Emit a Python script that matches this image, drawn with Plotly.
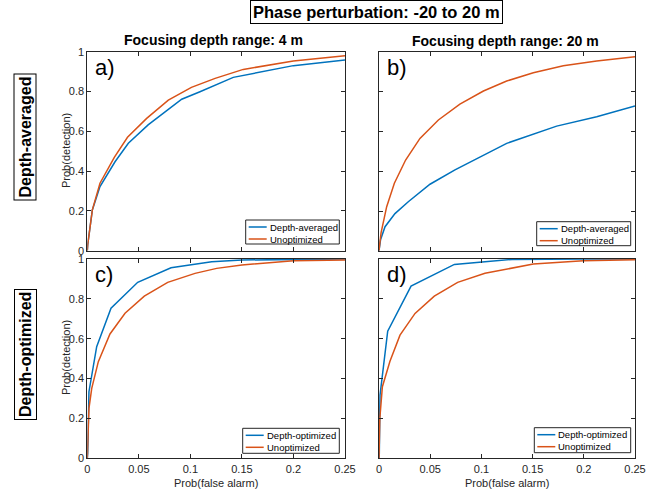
import plotly.graph_objects as go

# ---------------- data ----------------
pfa_a_avg = [0, 0.0004, 0.0049, 0.0123, 0.0269, 0.0398, 0.059, 0.0916, 0.1093, 0.124, 0.1416, 0.1999, 0.25]
pd_a_avg = [0, 0.03, 0.205, 0.322, 0.447, 0.540, 0.632, 0.761, 0.799, 0.833, 0.871, 0.930, 0.958]
pfa_a_un = [0, 0.0004, 0.0049, 0.0123, 0.0262, 0.039, 0.0576, 0.0786, 0.101, 0.124, 0.1513, 0.1999, 0.25]
pd_a_un = [0, 0.03, 0.205, 0.339, 0.469, 0.570, 0.665, 0.757, 0.821, 0.866, 0.911, 0.953, 0.980]

pfa_b_avg = [0, 0.0015, 0.0059, 0.0156, 0.0286, 0.0498, 0.0742, 0.1003, 0.1247, 0.1735, 0.2126, 0.25]
pd_b_avg = [0, 0.055, 0.121, 0.187, 0.247, 0.335, 0.407, 0.477, 0.541, 0.628, 0.675, 0.729]
pfa_b_un = [0, 0.002, 0.0075, 0.015, 0.026, 0.040, 0.058, 0.079, 0.102, 0.1247, 0.1507, 0.18, 0.2126, 0.25]
pd_b_un = [0, 0.09, 0.222, 0.340, 0.457, 0.566, 0.659, 0.739, 0.805, 0.855, 0.897, 0.932, 0.956, 0.978]

pfa_c_opt = [0, 0.0004, 0.0016, 0.0091, 0.023, 0.0489, 0.0812, 0.1045, 0.1207, 0.15, 0.2, 0.25]
pd_c_opt = [0, 0.025, 0.334, 0.560, 0.753, 0.883, 0.956, 0.973, 0.986, 0.995, 0.999, 1.0]
pfa_c_un = [0, 0.0016, 0.0043, 0.0107, 0.022, 0.0366, 0.0553, 0.078, 0.1045, 0.1255, 0.15, 0.2, 0.25]
pd_c_un = [0, 0.251, 0.351, 0.485, 0.624, 0.728, 0.814, 0.883, 0.928, 0.953, 0.970, 0.991, 0.995]

pfa_d_opt = [0, 0.0003, 0.001, 0.0085, 0.0313, 0.0736, 0.1035, 0.13, 0.2, 0.25]
pd_d_opt = [0, 0.024, 0.317, 0.638, 0.864, 0.973, 0.986, 0.998, 1.0, 1.0]
pfa_d_un = [0, 0.0008, 0.0033, 0.0107, 0.0205, 0.0352, 0.054, 0.0768, 0.1035, 0.1507, 0.1995, 0.25]
pd_d_un = [0, 0.2, 0.359, 0.487, 0.618, 0.727, 0.814, 0.883, 0.928, 0.975, 0.991, 0.996]

x_ticks = [0, 0.05, 0.1, 0.15, 0.2, 0.25]
x_ticklabels = ["0", "0.05", "0.1", "0.15", "0.2", "0.25"]
y_ticks = [0, 0.2, 0.4, 0.6, 0.8, 1]
y_ticklabels = ["0", "0.2", "0.4", "0.6", "0.8", "1"]

BLUE = "#0072BD"
ORANGE = "#D95319"
W, H = 659, 494


def px2x(p):
    return p / W


def px2y(p):
    return 1 - p / H


# panel pixel boxes: left, right, top, bottom
boxes = {
    1: (87.3, 345, 51.7, 250.7),
    2: (379, 635, 52.3, 250.7),
    3: (87.3, 345, 259, 458.3),
    4: (379, 635, 259, 458.3),
}

series = [
    (1, pfa_a_avg, pd_a_avg, "Depth-averaged", BLUE),
    (1, pfa_a_un, pd_a_un, "Unoptimized", ORANGE),
    (2, pfa_b_avg, pd_b_avg, "Depth-averaged", BLUE),
    (2, pfa_b_un, pd_b_un, "Unoptimized", ORANGE),
    (3, pfa_c_opt, pd_c_opt, "Depth-optimized", BLUE),
    (3, pfa_c_un, pd_c_un, "Unoptimized", ORANGE),
    (4, pfa_d_opt, pd_d_opt, "Depth-optimized", BLUE),
    (4, pfa_d_un, pd_d_un, "Unoptimized", ORANGE),
]

fig = go.Figure()
for k, xs, ys, name, col in series:
    sfx = "" if k == 1 else str(k)
    fig.add_trace(go.Scatter(
        x=xs, y=ys, mode="lines", name=name,
        line=dict(color=col, width=1.5),
        xaxis="x" + sfx, yaxis="y" + sfx,
        showlegend=False,
    ))

FONT = "Liberation Sans, Arial, sans-serif"
AXC = "#262626"
layout = dict(
    width=W, height=H,
    margin=dict(l=0, r=0, t=0, b=0, autoexpand=False),
    paper_bgcolor="white", plot_bgcolor="white",
    font=dict(family=FONT, size=11, color=AXC),
    showlegend=False,
)

for k, (l, r, t, b) in boxes.items():
    sfx = "" if k == 1 else str(k)
    show_x = k in (3, 4)
    show_y = k in (1, 3)
    layout["xaxis" + sfx] = dict(
        domain=[px2x(l), px2x(r)], range=[0, 0.25], anchor="y" + sfx,
        tickmode="array", tickvals=x_ticks, ticktext=x_ticklabels,
        showticklabels=show_x, ticks="inside", ticklen=4, tickcolor=AXC,
        showline=True, linecolor=AXC, linewidth=1, mirror="ticks",
        showgrid=False, zeroline=False,
        tickfont=dict(size=11, color=AXC),
    )
    layout["yaxis" + sfx] = dict(
        domain=[px2y(b), px2y(t)], range=[0, 1], anchor="x" + sfx,
        tickmode="array", tickvals=y_ticks, ticktext=y_ticklabels,
        showticklabels=show_y, ticks="inside", ticklen=4, tickcolor=AXC,
        showline=True, linecolor=AXC, linewidth=1, mirror="ticks",
        showgrid=False, zeroline=False,
        tickfont=dict(size=11, color=AXC),
    )

fig.update_layout(**layout)

ann = []
shapes = []
# super title in box
ann.append(dict(text="<b>Phase perturbation: -20 to 20 m</b>", x=px2x(376), y=px2y(12),
                xref="paper", yref="paper", showarrow=False, xanchor="center", yanchor="middle",
                font=dict(size=16.5, color="#000000", family=FONT),
                bordercolor="#000000", borderwidth=1, borderpad=2, bgcolor="white"))
# column titles
ann.append(dict(text="<b>Focusing depth range: 4 m</b>", x=px2x(214), y=px2y(40),
                xref="paper", yref="paper", showarrow=False, xanchor="center", yanchor="middle",
                font=dict(size=14, color="#000000", family=FONT)))
ann.append(dict(text="<b>Focusing depth range: 20 m</b>", x=px2x(505), y=px2y(41),
                xref="paper", yref="paper", showarrow=False, xanchor="center", yanchor="middle",
                font=dict(size=14, color="#000000", family=FONT)))
# row labels
ann.append(dict(text="<b>Depth-averaged</b>", x=px2x(25), y=px2y(137.5),
                xref="paper", yref="paper", showarrow=False, xanchor="center", yanchor="middle",
                textangle=-90, font=dict(size=16, color="#000000", family=FONT),
                bordercolor="#000000", borderwidth=1, borderpad=2, bgcolor="white"))
ann.append(dict(text="<b>Depth-optimized</b>", x=px2x(25), y=px2y(355),
                xref="paper", yref="paper", showarrow=False, xanchor="center", yanchor="middle",
                textangle=-90, font=dict(size=16, color="#000000", family=FONT),
                bordercolor="#000000", borderwidth=1, borderpad=2, bgcolor="white"))
# y axis titles
for yc in (151, 358):
    ann.append(dict(text="Prob(detection)", x=px2x(66), y=px2y(yc),
                    xref="paper", yref="paper", showarrow=False, xanchor="center", yanchor="middle",
                    textangle=-90, font=dict(size=11, color=AXC, family=FONT)))
# x axis titles
for xc in (216, 507):
    ann.append(dict(text="Prob(false alarm)", x=px2x(xc), y=px2y(483),
                    xref="paper", yref="paper", showarrow=False, xanchor="center", yanchor="middle",
                    font=dict(size=11, color=AXC, family=FONT)))
# panel letters
for lab, (l, r, t, b) in zip(["a)", "b)", "c)", "d)"], boxes.values()):
    ann.append(dict(text=lab, x=px2x(l + 6), y=px2y(t + 1),
                    xref="paper", yref="paper", showarrow=False, xanchor="left", yanchor="top",
                    font=dict(size=22, color="#000000", family=FONT)))

# legends (drawn as boxes with line samples and text) : left, right, top, bottom
legend_boxes = {
    1: (245.7, 339.3, 220, 244),
    2: (536.7, 630.7, 221.7, 245.7),
    3: (242.7, 339.3, 428.3, 453.3),
    4: (534.3, 630.7, 427.7, 452.7),
}
legend_names = {k: [] for k in boxes}
for k, xs, ys, name, col in series:
    legend_names[k].append((name, col))

for k, (L, R, T, B) in legend_boxes.items():
    shapes.append(dict(type="rect", xref="paper", yref="paper",
                       x0=px2x(L), x1=px2x(R), y0=px2y(B), y1=px2y(T),
                       line=dict(color=AXC, width=1), fillcolor="white", layer="above"))
    for i, (name, col) in enumerate(legend_names[k]):
        yy = T + 7 + 12 * i
        shapes.append(dict(type="line", xref="paper", yref="paper",
                           x0=px2x(L + 3), x1=px2x(L + 21), y0=px2y(yy), y1=px2y(yy),
                           line=dict(color=col, width=1.5), layer="above"))
        ann.append(dict(text=name, x=px2x(L + 22), y=px2y(yy),
                        xref="paper", yref="paper", showarrow=False,
                        xanchor="left", yanchor="middle",
                        font=dict(size=9.5, color="#000000", family=FONT)))

fig.update_layout(annotations=ann, shapes=shapes)
fig.write_html("out.html",
               config={"displayModeBar": False},
               post_script="document.body.style.margin='0';document.body.style.padding='0';document.body.style.overflow='hidden';")
